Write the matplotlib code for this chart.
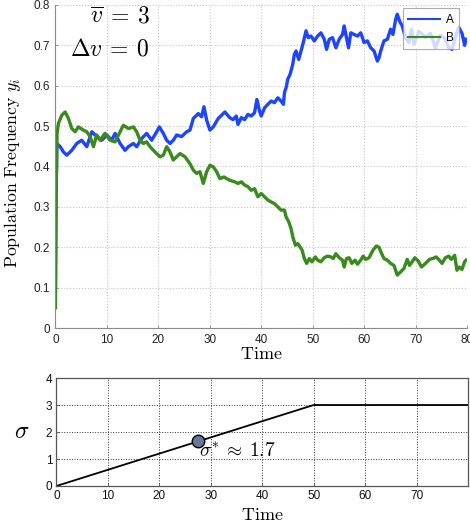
import matplotlib
matplotlib.use("Agg")
import matplotlib.pyplot as plt

BLUE = "#1f45fc"
GREEN = "#3a8a1d"
SPINE = "#8a8a8a"

# population frequency of A
time_a = [0.0, 0.1, 0.26, 0.91, 1.55, 2.20, 3.17, 4.14, 5.11, 6.08, 7.06, 8.03, 9.00, 9.97,
          10.94, 11.59, 12.56, 13.53, 14.17, 15.15, 15.79, 16.76, 17.73, 18.71, 19.68, 20.19,
          20.97, 21.62, 22.27, 22.91, 23.56, 24.53, 25.50, 26.15, 26.80, 27.77, 28.41, 28.87,
          29.39, 30.03, 30.68, 31.65, 32.30, 32.94, 33.87, 34.52, 35.16, 35.48, 36.13, 36.77,
          37.42, 38.06, 38.71, 39.16, 39.68, 40.0, 40.65, 41.29, 41.94, 42.58, 43.23, 43.87,
          44.32, 44.52, 44.84, 45.16, 45.61, 46.13, 46.45, 46.77, 47.29, 47.74, 48.19, 48.71,
          49.16, 49.68, 50.32, 50.97, 51.61, 52.26, 52.71, 53.23, 53.87, 54.52, 55.16, 55.81,
          56.13, 56.58, 56.97, 57.42, 58.06, 58.71, 59.35, 60.0, 60.65, 61.29, 61.94, 62.58,
          62.90, 63.23, 63.87, 64.52, 65.16, 65.61, 66.13, 66.45, 66.90, 67.42, 68.06, 68.71,
          69.23, 69.68, 70.65, 71.94, 72.9, 73.87, 74.84, 75.81, 76.45, 77.10, 77.74, 78.39,
          79.03, 79.55, 79.8]
freq_a = [0.10, 0.30, 0.457, 0.449, 0.436, 0.428, 0.440, 0.457, 0.465, 0.449, 0.486, 0.474,
          0.465, 0.478, 0.465, 0.482, 0.457, 0.440, 0.449, 0.457, 0.449, 0.469, 0.482, 0.465,
          0.486, 0.498, 0.482, 0.465, 0.457, 0.465, 0.478, 0.474, 0.486, 0.490, 0.519, 0.531,
          0.523, 0.548, 0.515, 0.490, 0.498, 0.519, 0.527, 0.535, 0.521, 0.516, 0.525, 0.504,
          0.521, 0.516, 0.529, 0.525, 0.533, 0.566, 0.537, 0.525, 0.545, 0.554, 0.562, 0.558,
          0.570, 0.562, 0.554, 0.583, 0.595, 0.616, 0.628, 0.653, 0.678, 0.686, 0.665, 0.686,
          0.707, 0.736, 0.719, 0.723, 0.711, 0.723, 0.731, 0.715, 0.690, 0.715, 0.719, 0.694,
          0.715, 0.727, 0.748, 0.719, 0.694, 0.731, 0.727, 0.723, 0.731, 0.707, 0.711, 0.694,
          0.686, 0.661, 0.669, 0.686, 0.711, 0.715, 0.740, 0.727, 0.764, 0.777, 0.760, 0.748,
          0.719, 0.707, 0.740, 0.703, 0.735, 0.720, 0.730, 0.694, 0.725, 0.715, 0.694, 0.690,
          0.720, 0.745, 0.730, 0.700, 0.715]

# population frequency of B
time_b = [0.0, 0.1, 0.3, 0.58, 1.23, 1.88, 2.52, 3.17, 3.82, 4.47, 5.44, 6.08, 6.73, 7.38,
          8.03, 8.67, 9.64, 10.61, 11.59, 12.56, 13.20, 14.17, 15.15, 15.79, 16.44, 17.09,
          17.73, 18.38, 19.35, 20.32, 20.97, 21.62, 22.27, 22.91, 23.56, 24.21, 25.18, 26.15,
          26.80, 27.44, 28.09, 28.74, 29.39, 30.03, 30.68, 31.33, 31.97, 32.75, 33.27, 33.87,
          34.84, 35.48, 36.13, 36.77, 37.42, 38.06, 38.71, 39.35, 40.0, 40.65, 41.29, 41.94,
          42.58, 43.23, 43.87, 44.52, 44.84, 45.35, 45.81, 46.13, 46.65, 47.10, 47.55, 47.94,
          48.39, 48.84, 49.35, 49.87, 50.52, 50.97, 51.61, 52.26, 52.90, 53.55, 54.0, 54.52,
          55.16, 55.81, 56.13, 56.58, 57.10, 57.61, 58.26, 58.71, 59.35, 59.81, 60.32, 60.97,
          61.74, 62.39, 62.90, 63.42, 63.87, 64.52, 65.16, 65.81, 66.13, 66.45, 67.10, 67.74,
          68.39, 68.84, 69.35, 69.87, 70.52, 71.16, 71.94, 72.71, 73.35, 74.0, 74.65, 75.16,
          75.81, 76.45, 76.97, 77.61, 78.06, 78.52, 79.03, 79.55, 79.81]
freq_b = [0.05, 0.30, 0.48, 0.507, 0.527, 0.535, 0.519, 0.494, 0.486, 0.498, 0.490, 0.486,
          0.474, 0.449, 0.478, 0.465, 0.482, 0.465, 0.461, 0.486, 0.502, 0.494, 0.498, 0.486,
          0.465, 0.457, 0.461, 0.449, 0.436, 0.424, 0.428, 0.449, 0.436, 0.416, 0.424, 0.432,
          0.424, 0.407, 0.391, 0.383, 0.387, 0.358, 0.387, 0.403, 0.399, 0.387, 0.370, 0.374,
          0.370, 0.366, 0.362, 0.358, 0.362, 0.354, 0.350, 0.341, 0.345, 0.325, 0.333, 0.325,
          0.317, 0.312, 0.308, 0.300, 0.292, 0.292, 0.275, 0.263, 0.246, 0.226, 0.205, 0.209,
          0.201, 0.193, 0.172, 0.160, 0.172, 0.164, 0.176, 0.168, 0.164, 0.174, 0.178, 0.176,
          0.172, 0.184, 0.174, 0.168, 0.151, 0.172, 0.174, 0.160, 0.168, 0.158, 0.168, 0.178,
          0.170, 0.174, 0.193, 0.203, 0.200, 0.184, 0.172, 0.168, 0.160, 0.155, 0.143, 0.131,
          0.139, 0.147, 0.170, 0.155, 0.164, 0.174, 0.166, 0.151, 0.160, 0.170, 0.172, 0.176,
          0.168, 0.160, 0.174, 0.178, 0.170, 0.180, 0.143, 0.151, 0.145, 0.164, 0.168]

# sigma schedule and the marked critical point
sigma_time = [0, 50, 80]
sigma_value = [0, 3, 3]
sigma_star_time = 27.5
sigma_star = 1.65

plt.rcParams.update({
    "font.family": "Liberation Sans",
    "font.size": 8.5,
    "mathtext.fontset": "cm",
})

fig = plt.figure(figsize=(4.7, 5.27), dpi=100)

# top: population frequencies
ax = fig.add_axes([0.118, 0.3776, 0.8755, 0.613])
ax.plot(time_a, freq_a, color=BLUE, linewidth=2.4, label="A")
ax.plot(time_b, freq_b, color=GREEN, linewidth=2.4, label="B")
ax.set_xlim(0, 80)
ax.set_ylim(0, 0.8)
ax.set_xticks(range(0, 81, 10))
ax.set_yticks([i / 10 for i in range(9)])
ax.set_yticklabels(["0"] + [f"{i / 10:.1f}" for i in range(1, 9)])
ax.grid(True, linestyle=":", color="#c4c4c4", linewidth=0.8)
ax.set_axisbelow(True)
for side in ("top", "right"):
    ax.spines[side].set_visible(False)
for side in ("left", "bottom"):
    ax.spines[side].set_color(SPINE)
    ax.spines[side].set_linewidth(0.8)
ax.tick_params(direction="in", length=2.5, width=0.6, color=SPINE, labelcolor="#222222", pad=4)
ax.set_ylabel(r"$\mathrm{Population\ Frequency}\ y_i$", fontsize=12.8)
ax.yaxis.set_label_coords(-0.078, 0.48)
ax.set_xlabel(r"$\mathrm{Time}$", fontsize=13)
ax.xaxis.set_label_coords(0.5, -0.055)
ax.text(0.23, 0.963, r"$\overline{v}\:=\:3$", transform=ax.transAxes, fontsize=17,
        ha="right", va="center")
ax.text(0.23, 0.861, r"$\Delta v\:=\:0$", transform=ax.transAxes, fontsize=17,
        ha="right", va="center")
leg = ax.legend(loc="upper right", bbox_to_anchor=(0.99, 1.0), fontsize=8.5, frameon=True,
                fancybox=False, handlelength=2.7, handletextpad=0.5, borderpad=0.45,
                labelspacing=0.5, borderaxespad=0.3)
leg.get_frame().set_edgecolor("#9a9a9a")
leg.get_frame().set_linewidth(0.8)
for line in leg.get_lines():
    line.set_linewidth(1.5)

# bottom: sigma schedule
ax2 = fig.add_axes([0.120, 0.0778, 0.8757, 0.2049])
ax2.plot(sigma_time, sigma_value, color="black", linewidth=1.3)
ax2.plot([sigma_star_time], [sigma_star], "o", markersize=9, markerfacecolor="#62799a",
         markeredgecolor="black", markeredgewidth=1.0)
ax2.text(27.8, 1.3, r"$\sigma^{*}\:\approx\:1.7$", fontsize=14, ha="left", va="center")
ax2.set_xlim(0, 80)
ax2.set_ylim(0, 4)
ax2.set_xticks(range(0, 71, 10))
ax2.set_yticks(range(5))
ax2.grid(True, linestyle=":", color="#333333", linewidth=0.7)
for side in ax2.spines:
    ax2.spines[side].set_color("#555555")
    ax2.spines[side].set_linewidth(0.9)
ax2.tick_params(direction="in", length=2.5, width=0.6, color="#555555", labelcolor="#111111", pad=3)
ax2.set_xlabel(r"$\mathrm{Time}$", fontsize=13)
ax2.xaxis.set_label_coords(0.5, -0.19)
ax2.set_ylabel(r"$\sigma$", fontsize=17, rotation=0, va="center")
ax2.yaxis.set_label_coords(-0.084, 0.5)

fig.savefig("out.png", dpi=100)
